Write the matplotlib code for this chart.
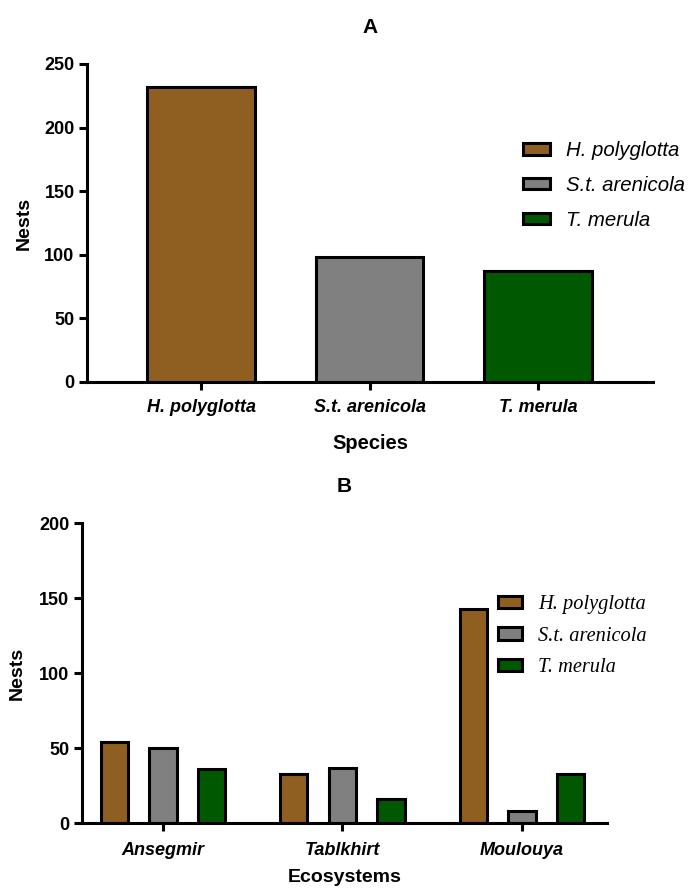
import matplotlib.pyplot as plt
import numpy as np
from matplotlib.patches import Patch

species = ['H. polyglotta', 'S.t. arenicola', 'T. merula']
species_nests = [232, 98, 87]

sites = ['Ansegmir', 'Tablkhirt', 'Moulouya']
site_nests = {
    'H. polyglotta': [54, 33, 143],
    'S.t. arenicola': [50, 37, 8],
    'T. merula': [36, 16, 33],
}

colors = ['#8E5F20', '#808080', '#005800']

plt.rcParams['font.family'] = 'Liberation Sans'
lw = 2.2

fig = plt.figure(figsize=(6.88, 8.88), dpi=100)


def style_axes(ax, pad):
    for side in ['top', 'right']:
        ax.spines[side].set_visible(False)
    for side in ['left', 'bottom']:
        ax.spines[side].set_linewidth(lw)
        ax.spines[side].set_capstyle('projecting')
    ax.tick_params(axis='both', width=lw, length=6, labelsize=13, pad=3)
    ax.tick_params(axis='x', pad=pad)
    for lab in ax.get_yticklabels():
        lab.set_fontweight('bold')
    for lab in ax.get_xticklabels():
        lab.set_fontweight('bold')
        lab.set_fontstyle('italic')


# panel A: total nests per species
ax1 = fig.add_axes([87 / 688, 1 - 382 / 888, 566 / 688, 318 / 888])
x1 = np.arange(len(species))
ax1.bar(x1, species_nests, width=0.64, color=colors, edgecolor='black',
        linewidth=lw, zorder=2)
ax1.set_xlim(-0.677, 2.682)
ax1.set_ylim(0, 250)
ax1.set_yticks([0, 50, 100, 150, 200, 250])
ax1.set_xticks(x1)
ax1.set_xticklabels(species)
style_axes(ax1, 6)
ax1.set_ylabel('Nests', fontsize=14, fontweight='bold', labelpad=8)
ax1.set_xlabel('Species', fontsize=14.5, fontweight='bold', labelpad=13)
ax1.set_title('A', fontsize=15, fontweight='bold', pad=22)

h1 = [Patch(facecolor=c, edgecolor='black', linewidth=lw) for c in colors]
ax1.legend(h1, species, loc='upper left', bbox_to_anchor=(523 / 688, 1 - 141 / 888),
           bbox_transform=fig.transFigure, frameon=False,
           prop={'family': 'Liberation Sans', 'style': 'italic', 'size': 14.7},
           handlelength=1.3, handleheight=0.5, handletextpad=0.8,
           labelspacing=0.78, borderpad=0, borderaxespad=0)

# panel B: nests per ecosystem
ax2 = fig.add_axes([82 / 688, 1 - 823 / 888, 525 / 688, 300 / 888])
x2 = np.arange(len(sites))
offset = 0.271
for i, (name, vals) in enumerate(site_nests.items()):
    ax2.bar(x2 + (i - 1) * offset, vals, width=0.152, color=colors[i],
            edgecolor='black', linewidth=lw, zorder=2, label=name)
ax2.set_xlim(-0.451, 2.474)
ax2.set_ylim(0, 200)
ax2.set_yticks([0, 50, 100, 150, 200])
ax2.set_xticks(x2)
ax2.set_xticklabels(sites)
style_axes(ax2, 8)
ax2.set_ylabel('Nests', fontsize=14, fontweight='bold', labelpad=10)
ax2.set_xlabel('Ecosystems', fontsize=14, fontweight='bold', labelpad=7)
ax2.set_title('B', fontsize=15, fontweight='bold', pad=22)

ax2.legend(loc='upper left', bbox_to_anchor=(498 / 688, 1 - 595 / 888),
           bbox_transform=fig.transFigure, frameon=False,
           prop={'family': 'Liberation Serif', 'style': 'italic', 'size': 14.7},
           handlelength=1.2, handleheight=0.55, handletextpad=0.75,
           labelspacing=0.62, borderpad=0, borderaxespad=0)

fig.savefig('out.png', dpi=100)
